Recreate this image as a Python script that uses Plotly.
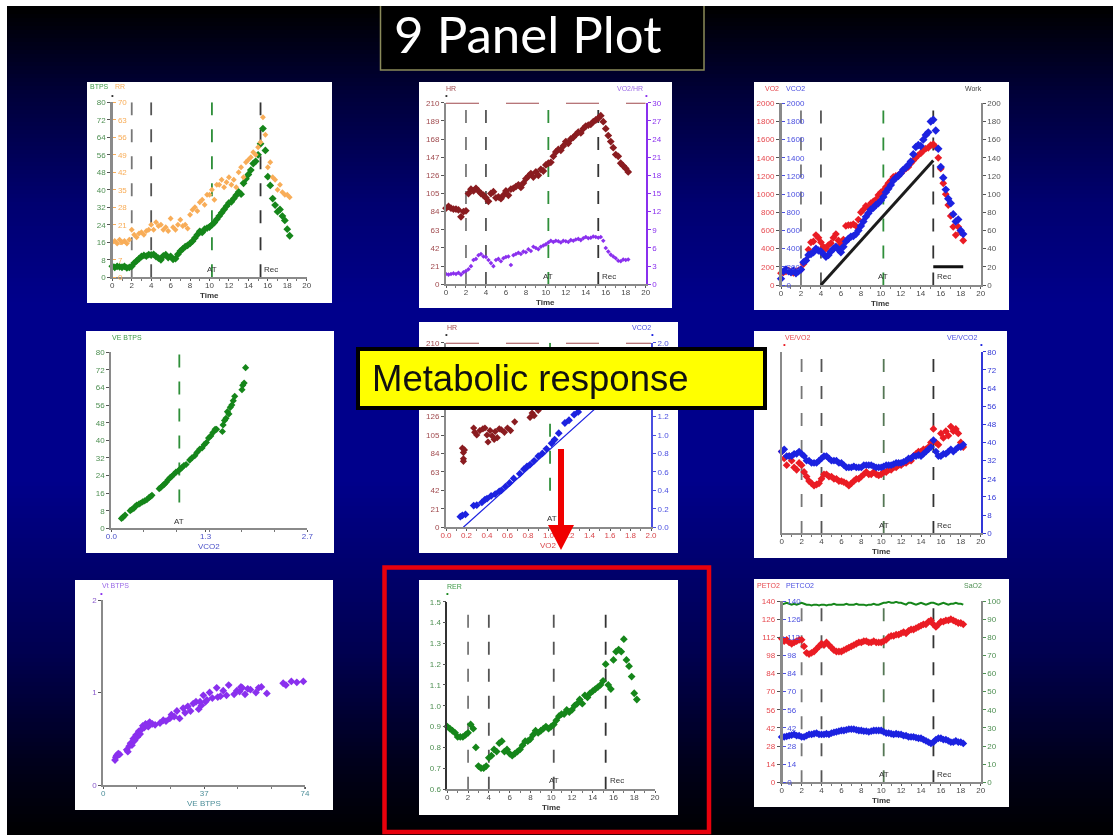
import plotly.graph_objects as go

W, H = 1113, 835

# ---------- shared time base (minutes) ----------
TIME = [0,.25,.5,.75,1,1.25,1.5,1.75, 2,2.25,2.5,2.75,3,3.25,3.5,3.75,
        4,4.25,4.5,4.75,5,5.25,5.5,5.75, 6,6.25,6.5,6.75,7,7.25,7.5,7.75,
        8,8.25,8.5,8.75,9,9.25,9.5,9.75, 10,10.25,10.5,10.75,11,11.25,11.5,11.75,
        12,12.25,12.5,12.75,13,13.25,13.5,13.75, 14,14.25,14.5,14.75,15,15.25,15.5,15.75,
        16,16.25,16.5,16.75,17,17.25,17.5,17.75, 18,18.25]
EVENTS = [2, 4, 10.25, 15.25]
TIME_TICKS = [0,2,4,6,8,10,12,14,16,18,20]

# ---------- panel 1 ----------
VE = [5,4.5,5,4.8,4.6,5,4.3,4.5, 5,6.5,7.5,8.5,9.5,10,9.7,10.4,
      10.2,10.5,9.5,8.8,8,9.8,10.3,9, 9.6,8.2,8.5,10.5,12,13,14,14.6,
      15.5,16.5,18,19.5,21,20.5,22,22.5, 23,24,25,26.5,28,29.5,31,32.5,
      34,34.5,36,37.5,39,38,43,45, 47,49,52,53,56,61,68,58,
      46,42,36,33,30,31,28,26, 22,19]
RR = [14,14.5,13.5,15,14,14.5,13.5,15, 19,17,16,17.5,18,17,18.5,19,
      21,19,22,20.5,21,19,20,18.5, 23.5,20,19,21,23,20.5,21,19.5,
      25,27,28,26.5,30,31,29,33, 33,35,31,37,37,39,36,38,
      40,37,39,36,42,44,40,46, 47,48,50,49,52,54,64,57,
      44,46,40,39,35,37,34,33, 33,32]
VE_TICKS = [0,8,16,24,32,40,48,56,64,72,80]
RR_TICKS = [0,7,14,21,28,35,42,49,56,63,70]

# ---------- panel 2 ----------
HR = [88,90,88,87,87,86,78,84, 85,105,110,108,111,108,105,103,
      100,96,105,107,100,101,99,103, 108,103,110,111,113,115,112,117,
      122,125,128,124,130,126,133,131, 138,140,141,148,153,156,155,160,
      165,163,168,170,173,176,175,180, 183,184,185,188,190,192,195,188,
      180,172,165,158,150,148,140,137, 134,130]
O2PULSE = [1.7,1.6,1.7,1.8,1.7,1.9,1.6,2.0, 2.2,2.5,3.0,4.0,4.2,4.8,5.0,4.6,
           4.5,4.0,3.5,3.0,4.0,4.2,3.8,4.3, 4.5,4.6,3.2,4.8,5.0,5.2,5.0,5.4,
           5.3,5.8,5.5,6.2,6.0,5.8,6.2,6.4, 6.6,6.9,7.2,7.0,7.2,7.1,6.9,7.2,
           7.1,7.0,7.3,7.2,7.4,7.5,7.3,7.6, 7.8,7.6,7.7,7.9,7.8,7.7,7.8,7.2,
           6.0,5.4,4.9,4.6,4.3,3.9,3.8,4.1, 4.0,4.1]
HR_TICKS = [0,21,42,63,84,105,126,147,168,189,210]
O2P_TICKS = [0,3,6,9,12,15,18,21,24,27,30]

# ---------- panel 3 ----------
VO2 = [130,140,150,160,145,135,150,160, 170,230,270,390,470,480,550,520,
       470,420,400,440,460,520,560,490, 450,500,650,660,660,670,650,720,
       800,830,870,850,900,920,940,990, 1020,1040,1080,1120,1150,1190,1200,1210,
       1230,1260,1280,1300,1340,1370,1400,1430, 1450,1480,1500,1510,1540,1550,1520,1400,
       1280,1120,1000,880,760,640,550,640, 580,490]
VCO2 = [70,150,170,150,140,160,130,150, 170,250,270,330,340,360,400,380,
        370,340,310,330,370,400,420,390, 360,420,480,510,530,540,560,600,
        650,700,750,790,830,850,880,900, 930,970,1020,1060,1100,1150,1180,1200,
        1230,1270,1290,1320,1360,1440,1520,1540, 1530,1600,1650,1680,1800,1820,1700,1500,
        1300,1180,1050,950,900,780,700,720, 600,560]
WORK_T = [4, 15.25]
WORK_W = [0, 137]
WORK_REC_T = [15.25, 18.25]
WORK_REC_W = [20, 20]
V_TICKS = [0,200,400,600,800,1000,1200,1400,1600,1800,2000]
WORK_TICKS = [0,20,40,60,80,100,120,140,160,180,200]

# ---------- panel 4 ----------
P4_VCO2 = [.14,.16,.19,.26,.28,.31,.33,.35,.38,.40,.43,.46,.49,.52,.54,.56,.66,.68,.71,.73,.76,.78,.81,.83,.86,.89,.92,.95,.97,
           1.0,1.03,1.08,1.11,1.15,1.18,1.22,1.25,1.28,1.31,1.34,1.37,1.40,1.43,1.45,1.53,1.54,1.56,1.58,1.60,1.62,1.64,1.66,1.68,1.70,1.80,1.81,1.83,1.85]
P4_VE = [4.5,5,6,8,8.5,9,10,10.5,11,11.4,12,12.5,13,14,14.4,15,18,18.5,19.5,20,21,22,23,23.5,24.5,25.5,26,27,27.5,
         28.5,29,31,32,33,34.5,36,36.5,38,39,41,42,43.5,45,45,44,47,49,50,53,52,55,56,58,60,63,65,66,73]

# ---------- panel 5 ----------
P5_VO2_HR = [.16,.17,.17,.18,.17,.27,.28,.30,.33,.36,.38,.40,.41,.43,.45,.47,.48,.50,.52,.54,.57,.60,.63,.67,.82,.84,.86,
             .9,1.0,1.1,1.2,1.3,1.4,1.5,1.55]
P5_HR = [90,85,78,88,75,113,108,105,110,112,113,105,97,110,104,100,109,102,112,111,108,113,110,120,125,130,127,
         133,138,150,160,172,180,190,193]
P5_VO2_V = [.14,.16,.19,.27,.30,.35,.38,.40,.44,.48,.52,.54,.58,.62,.66,.72,.76,.79,.82,.86,.90,.94,.98,1.03,1.06,1.10,1.16,1.20,1.25,1.29,1.4,1.5,1.55]
P5_VCO2 = [.115,.13,.14,.235,.24,.27,.30,.31,.34,.36,.39,.40,.44,.48,.53,.58,.63,.66,.68,.72,.77,.80,.85,.91,.95,1.02,1.13,1.16,1.22,1.25,1.4,1.6,1.8]
P5_LINE_X = [.169, 1.8]
P5_LINE_Y = [0, 1.63]
P5_AT_X = 1.015
P5_RIGHT = [0,.2,.4,.6,.8,1.0,1.2,1.4,1.6,1.8,2.0]
P5_X = [0,.2,.4,.6,.8,1.0,1.2,1.4,1.6,1.8,2.0]

# ---------- panel 6 ----------
VEVO2 = [36,33,30,34,32,29,28,31, 30,27,25,23,22,21,21.5,22,
         24,26,26,25,25,24,24,23, 23,22.5,22,21,22,23,24,24,
         25,26,27,26,26,27,26,25.5, 26,27,27,28,28,29,29,30,
         30,31,31,32,32,34,35,36, 36,37,37,38,40,46,40,39,
         44,42,45,43,47,45,46,44, 40,38]
VEVCO2 = [36,37,34,34,34,35,35,36, 35,34,32,32,31,31,31,32,
          33,34,34,33,32,32,32,31, 31,30,29,29,29,29.5,29,29,
          29,30,30,30,30,29.5,29,29, 29,29.5,30,30,30,30.5,31,31,
          31,31.5,32,33,33,34,34,34.5, 34,35,36,37,38,41,36,34,
          34,35,35,36,37,36,37,38, 38,39]

# ---------- panel 7 ----------
P7_VE = [4.3,4.6,4.9,5.5,6,8.6,9,9.5,10,10.5,11,11.5,12,12.5,13,13.5,14,14.5,15,15.5,15.9,16.5,17,18,19,20.8,22,23,24.4,25,26,
         27,28,29.3,30,31,32,33,34,35,35.5,36,36.7,37.5,38,39,40,41.6,42,43,44,45.2,46,48,49,50,50.5,51,52,53,54,56,57,58,60,66,67,69,71,73.4]
P7_VT = [.27,.30,.32,.34,.33,.38,.36,.42,.45,.43,.50,.48,.54,.52,.58,.55,.60,.64,.62,.66,.65,.63,.68,.66,.65,.67,.70,.69,.72,.76,.74,
         .80,.72,.83,.78,.85,.80,.88,.90,.82,.90,.86,.97,.90,.92,1.00,.94,1.05,.95,.96,1.02,.97,1.08,.98,1.02,1.01,1.06,1.05,.98,1.04,1.03,1.00,1.05,1.06,.99,1.10,1.08,1.12,1.11,1.12]
P7_Y_TICKS = [0, 1, 2]
P7_X_TICKS = [0, 37, 74]

# ---------- panel 8 ----------
RER = [.90,.89,.88,.87,.85,.85,.85,.86, .87,.91,.89,.80,.71,.70,.70,.71,
       .75,.76,.79,.78,.82,.83,.78,.79, .77,.76,.77,.78,.79,.81,.83,.83,
       .84,.86,.88,.87,.88,.89,.90,.89, .90,.91,.93,.95,.96,.96,.98,.97,
       .98,1.00,1.01,1.03,1.01,1.05,1.04,1.06, 1.07,1.08,1.09,1.10,1.12,1.20,1.10,1.08,
       1.22,1.26,1.27,1.26,1.32,1.22,1.19,1.14, 1.06,1.03]
RER_TICKS = [.6,.7,.8,.9,1.0,1.1,1.2,1.3,1.4,1.5]

# ---------- panel 9 ----------
PETO2 = [111,109,110,108,107,108,109,110, 110,105,100,99,100,101,103,105,
         107,106,108,106,104,102,101,101, 101,102,103,104,105,106,107,108,
         108,109,109,108,108,109,108,108, 108,109,110,112,113,113,114,114,
         115,116,115,117,118,118,119,120, 121,122,122,124,125,122,120,122,
         124,124,125,125,126,125,124,123, 123,122]
PETCO2 = [35,35,35.5,36,36.5,37,36,36, 35,35,36,37,37,37.5,38,37,
          37,37,37.5,37,38,38.5,39,39.5, 40,40,40.5,41,41,41,40.5,40,
          40,39.5,39.5,39,39.5,40,40,40, 40,39,38,38,37.5,37,37.5,37,
          37,36,36,35,35,35,34.5,34, 34,33,32,31,30,31,33,34,
          34,33,33,32,31,31,32,31, 31,30]
SAO2 = [98,98.5,99,98.5,98,98.5,98,98.5, 99,98.5,98,98,97.5,98,98,97.5,
        98,98,97.5,98,98,98.5,98,98, 98,98,98.5,98,98,98,98.5,98,
        98,98,97.5,98,98,98.5,98,98, 98.5,99,99,99.5,99,99,99.5,99,
        99,98.5,98,99,99,98.5,98,98.5, 99,98.5,98,98.5,99,99,98.5,98,
        98.5,99,98.5,98,98.5,98.5,99,98.5, 98.5,98]
PET_TICKS = [0,14,28,42,56,70,84,98,112,126,140]
SAT_TICKS = [0,10,20,30,40,50,60,70,80,90,100]

# ---------- colours ----------
GREEN, ORANGE, BROWN, PURPLE, RED, BLUE = "#15861a", "#f8ad58", "#8a1c20", "#8a30ee", "#ea1c24", "#1c22e0"
GRAY = "#8a8a8a"
TXT = "#4a4a4a"
FONT = "Liberation Sans"
BG_STOPS = [(6, 0), (90, 0x38), (200, 0x70), (300, 0x8b), (480, 0x8b), (650, 0x50), (760, 0x1c), (835, 0)]
EVENT_SHADES = {2: "#777777", 4: "#555555", 15.25: "#333333"}


def fx(px):
    return px / W


def fy(py):
    return 1 - py / H


shapes, annots, layout_axes = [], [], {}


def rect(x0, y0, x1, y1, fill, line=None, lw=0, layer="below"):
    shapes.append(dict(type="rect", xref="paper", yref="paper", layer=layer,
                       x0=fx(x0), x1=fx(x1), y0=fy(y0), y1=fy(y1), fillcolor=fill,
                       line=dict(color=line or fill, width=lw)))


def label(x, y, text, color=TXT, size=8, bold=False, anchor="left", family=FONT):
    annots.append(dict(x=fx(x), y=fy(y), xref="paper", yref="paper", text=f"<b>{text}</b>" if bold else text,
                       showarrow=False, xanchor=anchor, yanchor="middle",
                       font=dict(size=size, color=color, family=family)))


def bg_blue(py):
    for (a, va), (b, vb) in zip(BG_STOPS, BG_STOPS[1:]):
        if a <= py <= b:
            return int(va + (vb - va) * (py - a) / (b - a))
    return 0


# ---------- background ----------
rect(0, 0, W, H, "#ffffff")
rect(7, 6, W, H, "#000030")
STEP = 4
for py in range(6, H, STEP):
    rect(7, py, W, min(py + STEP + 2, H), f"rgb(0,0,{bg_blue(py)})")

fig = go.Figure()


def setup(n, white, plot, xr, xticks, yr, yticks, xcolor=TXT, ycolor=TXT, xtitle="Time",
          xfmt=None, yfmt=None, ylinecolor=GRAY, xminor=1, ywidth=2):
    rect(white[0], white[1], white[2], white[3], "#ffffff")
    x0, y0, x1, y1 = plot
    xa = dict(domain=[fx(x0), fx(x1)], range=xr, anchor=f"y{n}", tickvals=xticks, automargin=False,
              ticktext=[(xfmt % t) if xfmt else str(t) for t in xticks], ticklabelstandoff=-3,
              ticks="outside", ticklen=2, tickwidth=1, tickcolor="#555555", showline=True, linecolor=GRAY, linewidth=2,
              showgrid=False, zeroline=False, tickfont=dict(size=8, color=xcolor, family=FONT),
              minor=dict(dtick=xminor, ticks="outside", ticklen=2, tickcolor="#777777"))
    ya = dict(domain=[fy(y1), fy(y0)], range=yr, anchor=f"x{n}", tickvals=yticks, automargin=False,
              ticktext=[(yfmt % t) if yfmt else str(t) for t in yticks],
              ticks="outside", ticklen=3, tickwidth=1, tickcolor="#555555", showline=True, linecolor=ylinecolor,
              linewidth=ywidth, showgrid=False, zeroline=False, tickfont=dict(size=8, color=ycolor, family=FONT))
    layout_axes[f"xaxis{n}"] = xa
    layout_axes[f"yaxis{n}"] = ya
    if xtitle:
        label((x0 + x1) / 2, y1 + 18, xtitle, xcolor if n in (4, 5, 7) else "#333333",
              8, bold=(n not in (4, 5, 7)), anchor="center")


def second_y(n, base, rng, ticks, color, side, fmt=None, linecolor=None, free_at=None):
    """Overlay axis. free_at puts the labels on the plot side of a left axis at that pixel x."""
    d = dict(overlaying=f"y{base}", anchor=f"x{base}", side=side, range=rng, tickvals=ticks, automargin=False,
             ticktext=[(fmt % t) if fmt else str(t) for t in ticks], ticks="outside", ticklen=3, tickcolor=color,
             showline=True, linecolor=linecolor or color, linewidth=2, showgrid=False, zeroline=False,
             tickfont=dict(size=8, color=color, family=FONT))
    if free_at is not None:
        d.update(anchor="free", position=fx(free_at), side="right")
    layout_axes[f"yaxis{n}"] = d


def pts(x, y, color, xa, ya, size=6, name=""):
    fig.add_trace(go.Scatter(x=x, y=y, mode="markers", name=name, xaxis=xa, yaxis=ya, cliponaxis=False,
                             marker=dict(symbol="diamond", size=size, color=color, line=dict(width=0)),
                             hoverinfo="skip", showlegend=False))


def vline(x, ytop, ybot, color, xa, ya, dash="13px,14px", width=1.8):
    fig.add_trace(go.Scatter(x=[x, x], y=[ytop, ybot], mode="lines", xaxis=xa, yaxis=ya, hoverinfo="skip",
                             line=dict(color=color, width=width, dash=dash), showlegend=False))


def events(n, yr, at_color="#2f8f3a", top_gap=0.04):
    ya = f"y{n}"
    lo, hi = yr
    for e in EVENTS:
        vline(e, hi - (hi - lo) * top_gap, lo, at_color if e == 10.25 else EVENT_SHADES[e], f"x{n}", ya)
    annots.append(dict(x=10.25, y=lo + (hi - lo) * 0.045, xref=f"x{n}", yref=ya, text="AT", showarrow=False,
                       font=dict(size=8, color="#333333", family=FONT)))
    annots.append(dict(x=15.45, y=lo + (hi - lo) * 0.045, xref=f"x{n}", yref=ya, text="Rec", showarrow=False, xanchor="left",
                       font=dict(size=8, color="#333333", family=FONT)))


# Panel 1
setup(1, (87, 82, 332, 303), (112.3, 102.3, 306.7, 277.3), [0, 20], TIME_TICKS, [0, 80], VE_TICKS, ycolor="#4e8f52")
second_y(11, 1, [0, 70], RR_TICKS, ORANGE, "left", linecolor=GRAY, free_at=112.3)
events(1, (0, 80), top_gap=0.0)
pts(TIME, RR, ORANGE, "x1", "y11", 4.5, "RR")
pts(TIME, VE, GREEN, "x1", "y1", 6, "VE BTPS")
label(88, 87, "BTPS", "#3f9a48", 7)
label(113, 87, "RR", ORANGE, 7)
label(109, 95, "•", "#333333", 8)

# Panel 2
setup(2, (419, 82, 672, 308), (446, 102.7, 645.7, 284.3), [0, 20], TIME_TICKS, [0, 210], HR_TICKS, ycolor="#a04a4e")
second_y(12, 2, [0, 30], O2P_TICKS, PURPLE, "right")
events(2, (0, 210))
fig.add_trace(go.Scatter(x=[0, 20], y=[210, 210], mode="lines", xaxis="x2", yaxis="y2", hoverinfo="skip", showlegend=False,
                         line=dict(color="#a04a4e", width=2, dash="33px,27px")))
pts(TIME, O2PULSE, PURPLE, "x2", "y12", 3.5, "VO2/HR")
pts(TIME, HR, BROWN, "x2", "y2", 6, "HR")
label(444, 88, "HR", "#a04a4e", 7)
label(615, 88, "VO2/HR", "#9a6ae6", 7)
label(443, 95, "•", "#333333", 8)
label(643, 95, "•", PURPLE, 8)

# Panel 3
setup(3, (754, 82, 1009, 310), (781, 103.3, 980.7, 285), [0, 20], TIME_TICKS, [0, 2000], V_TICKS, ycolor="#e6484e")
second_y(13, 3, [0, 2000], V_TICKS, "#4a4fe0", "left", linecolor=GRAY, free_at=781)
second_y(23, 3, [0, 200], WORK_TICKS, "#555555", "right", linecolor=GRAY)
events(3, (0, 2000))
fig.add_trace(go.Scatter(x=WORK_T, y=WORK_W, mode="lines", xaxis="x3", yaxis="y23", hoverinfo="skip", showlegend=False,
                         line=dict(color="#1c1c1c", width=3)))
fig.add_trace(go.Scatter(x=WORK_REC_T, y=WORK_REC_W, mode="lines", xaxis="x3", yaxis="y23", hoverinfo="skip", showlegend=False,
                         line=dict(color="#111111", width=3)))
pts(TIME, VO2, RED, "x3", "y3", 6, "VO2")
pts(TIME, VCO2, BLUE, "x3", "y13", 6.5, "VCO2")
label(763, 88, "VO2", "#e6484e", 7)
label(784, 88, "VCO2", "#4a4fe0", 7)
label(963, 88, "Work", "#444444", 7)

# Panel 4
setup(4, (86, 331, 334, 553), (111.3, 352.3, 307.3, 528.3), [0, 2.7], [0, 1.3, 2.7], [0, 80], VE_TICKS,
      xcolor="#4a50c8", ycolor="#4e8f52", xtitle="VCO2", xfmt="%.1f", xminor=0.45)
vline(0.937, 79, 10, "#2f8f3a", "x4", "y4")
annots.append(dict(x=.937, y=3, xref="x4", yref="y4", text="AT", showarrow=False, font=dict(size=8, color="#333333", family=FONT)))
pts(P4_VCO2, P4_VE, GREEN, "x4", "y4", 5.5, "VE BTPS")
label(110, 337, "VE BTPS", "#3f9a48", 7)

# Panel 5
setup(5, (419, 322, 678, 553), (446, 342.7, 651, 527.3), [0, 2], P5_X, [0, 210], HR_TICKS, xcolor="#d8474c",
      ycolor="#a04a4e", xtitle="VO2", xfmt="%.1f", xminor=0.1)
second_y(15, 5, [0, 2], P5_RIGHT, "#4a4fe0", "right", fmt="%.1f")
vline(P5_AT_X, 210, 30, "#2f8f3a", "x5", "y5")
fig.add_trace(go.Scatter(x=[0, 2], y=[210, 210], mode="lines", xaxis="x5", yaxis="y5", hoverinfo="skip", showlegend=False,
                         line=dict(color="#a04a4e", width=2, dash="33px,27px")))
fig.add_trace(go.Scatter(x=P5_LINE_X, y=P5_LINE_Y, mode="lines", xaxis="x5", yaxis="y15", hoverinfo="skip", showlegend=False,
                         line=dict(color=BLUE, width=1.2)))
annots.append(dict(x=1.03, y=10, xref="x5", yref="y5", text="AT", showarrow=False, font=dict(size=8, color="#333333", family=FONT)))
pts(P5_VO2_HR, P5_HR, BROWN, "x5", "y5", 5.5, "HR")
pts(P5_VO2_V, P5_VCO2, BLUE, "x5", "y15", 6, "VCO2")
label(445, 327, "HR", "#a04a4e", 7)
label(630, 327, "VCO2", "#4a4fe0", 7)
label(443, 335, "•", "#333333", 8)
label(649, 335, "•", BLUE, 8)

# Panel 6
setup(6, (754, 331, 1007, 558), (781.7, 351.7, 980.7, 533.3), [0, 20], TIME_TICKS, [0, 80], VE_TICKS, ycolor="#e6484e")
layout_axes["yaxis6"]["showticklabels"] = False
layout_axes["yaxis6"]["ticks"] = ""
second_y(26, 6, [0, 80], VE_TICKS, "#e6484e", "left", linecolor=GRAY, free_at=781.7)
second_y(16, 6, [0, 80], VE_TICKS, "#3338d8", "right")
events(6, (0, 80), at_color="#557755")
pts(TIME, VEVO2, RED, "x6", "y6", 6, "VE/VO2")
pts(TIME, VEVCO2, BLUE, "x6", "y16", 6, "VE/VCO2")
label(783, 337, "VE/VO2", "#e6484e", 7)
label(945, 337, "VE/VCO2", "#4a4fe0", 7)
label(781, 344, "•", RED, 8)
label(978, 344, "•", BLUE, 8)

# Panel 7
setup(7, (75, 580, 333, 810), (103.3, 600, 305, 785), [0, 74], P7_X_TICKS, [0, 2], P7_Y_TICKS, xcolor="#4e8f9a",
      ycolor="#8a5acc", xtitle="VE BTPS", xminor=12.33)
pts(P7_VE, P7_VT, PURPLE, "x7", "y7", 6, "Vt BTPS")
label(100, 585, "Vt BTPS", "#9a6ae6", 7)
label(98, 593, "•", PURPLE, 8)

# Panel 8
setup(8, (419, 580, 678, 815), (447.3, 601.7, 655, 789), [0, 20], TIME_TICKS, [.6, 1.5], RER_TICKS, ycolor="#4e8f52",
      yfmt="%.1f", ylinecolor="#333333", ywidth=1.5)
events(8, (.6, 1.5), at_color="#555555", top_gap=0.07)
pts(TIME, RER, GREEN, "x8", "y8", 6, "RER")
label(445, 586, "RER", "#3f9a48", 7)
label(444, 593, "•", GREEN, 8)

# Panel 9
setup(9, (754, 579, 1009, 807), (781.7, 601, 980.7, 782.3), [0, 20], TIME_TICKS, [0, 140], PET_TICKS, ycolor="#e6484e")
second_y(19, 9, [0, 140], PET_TICKS, "#4a4fe0", "left", linecolor=GRAY, free_at=781.7)
second_y(29, 9, [0, 100], SAT_TICKS, "#4e8f52", "right", linecolor=GRAY)
events(9, (0, 140), at_color="#557755")
fig.add_trace(go.Scatter(x=TIME, y=SAO2, mode="lines", xaxis="x9", yaxis="y29", hoverinfo="skip", showlegend=False,
                         line=dict(color=GREEN, width=2)))
pts(TIME, PETO2, RED, "x9", "y9", 6, "PETO2")
pts(TIME, PETCO2, BLUE, "x9", "y19", 6, "PETCO2")
label(755, 585, "PETO2", "#e6484e", 7)
label(784, 585, "PETCO2", "#4a4fe0", 7)
label(962, 585, "SaO2", "#4e8f52", 7)

# ---------- overlays ----------
rect(380.5, 4, 704, 70, "#000000", "#8a8a5a", 1.5, layer="above")
rect(0, 0, W, 6, "#ffffff", layer="above")
label(392, 34, "9 Panel Plot", "#ffffff", 51, family="Lato")

rect(358, 349, 765, 408, "#ffff00", "#000000", 4, layer="above")
label(370, 378, "Metabolic response", "#111111", 36.5)

shapes.append(dict(type="rect", xref="paper", yref="paper", layer="above", x0=fx(384.5), x1=fx(709), y0=fy(832), y1=fy(567.5),
                   line=dict(color="#e8000c", width=4.5)))
ARROW = [(558, 449), (564, 449), (564, 525), (574, 525), (561, 550), (548, 525), (558, 525)]
shapes.append(dict(type="path", xref="paper", yref="paper", layer="above", fillcolor="#f00000", line=dict(width=0),
                   path="M " + " L ".join(f"{fx(a):.5f},{fy(b):.5f}" for a, b in ARROW) + " Z"))

fig.update_layout(width=W, height=H, margin=dict(l=0, r=0, t=0, b=0, autoexpand=False), autosize=False,
                  paper_bgcolor="#ffffff", plot_bgcolor="rgba(0,0,0,0)", showlegend=False,
                  shapes=shapes, annotations=annots, font=dict(family=FONT), **layout_axes)

fig.write_html("out.html", config=dict(displayModeBar=False),
               post_script="document.body.style.margin='0';document.body.style.overflow='hidden';"
                           "document.querySelectorAll('.main-svg').forEach(function(s){s.style.filter='blur(0.45px)';});")
